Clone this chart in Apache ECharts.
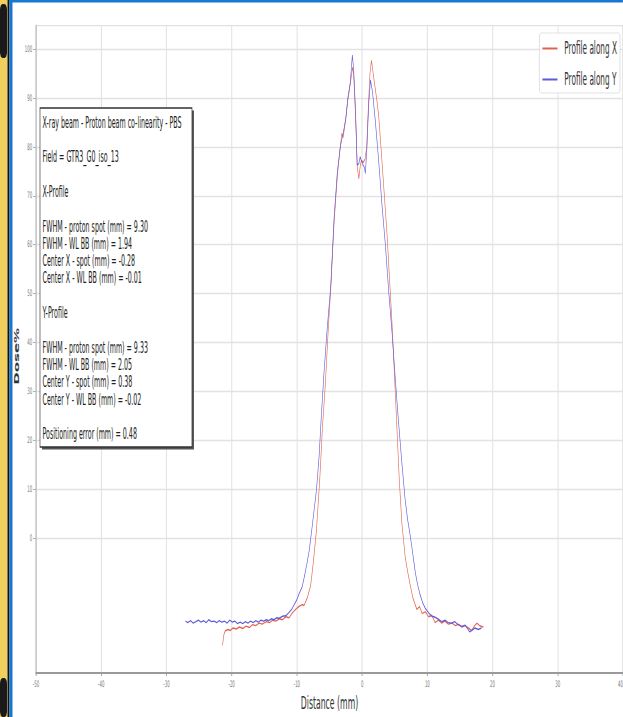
<!DOCTYPE html>
<html>
<head>
<meta charset="utf-8">
<title>Profile along X / Y</title>
<script src="https://cdn.jsdelivr.net/npm/echarts@6/dist/echarts.min.js"></script>
<style>
  html, body { margin: 0; padding: 0; background: #fff; overflow: hidden; }
  #wrap { width: 623px; height: 717px; overflow: hidden; position: relative; }
  #chart { height: 717px; transform-origin: 0 0; }
</style>
</head>
<body>
<div id="wrap"><div id="chart"></div></div>
<script>
// the source picture is squeezed sideways, so draw wide and scale x down
var S = 0.43;

// Profile along X (red)
var distX = [-21.4,-21.2,-21.0,-20.6,-20.2,-19.8,-19.3,-18.8,-18.3,-17.8,-17.3,-16.8,-16.3,-15.8,-15.3,-14.7,-14.2,-13.7,-13.2,-12.7,-12.2,-11.7,-11.2,-10.7,-10.2,-9.7,-9.2,-8.9,-8.4,-7.9,-7.5,-7.0,-6.5,-6.1,-5.6,-5.2,-4.8,-4.3,-3.8,-3.4,-3.1,-2.9,-2.5,-2.2,-1.8,-1.45,-1.3,-1.0,-0.75,-0.5,-0.3,-0.1,0.15,0.45,0.7,0.95,1.2,1.43,1.8,2.3,2.55,2.8,3.3,3.8,4.2,4.6,5.0,5.35,5.7,6.1,6.6,7.0,7.4,7.8,8.4,8.8,9.2,9.7,10.2,10.7,11.2,11.7,12.2,12.7,13.2,13.8,14.3,14.8,15.3,15.8,16.3,16.8,17.2,17.6,18.1,18.6];
var doseX = [-21.9,-19.8,-19.0,-18.7,-18.9,-18.4,-18.6,-18.2,-18.5,-18.0,-18.3,-17.7,-17.9,-17.4,-17.6,-17.1,-17.3,-16.8,-17.0,-16.5,-16.7,-16.1,-16.3,-15.3,-14.6,-14.0,-13.6,-13.8,-12.2,-9.8,-5.2,1.6,11.9,22.1,32.3,42.5,51.2,64.5,74.0,79.5,82.8,82.0,85.8,89.5,93.0,96.3,95.0,86.0,76.0,73.5,76.0,77.3,76.8,77.5,80.0,88.0,95.0,97.7,94.0,89.2,86.2,81.7,72.2,62.6,53.1,43.5,32.3,22.1,11.9,3.0,-3.8,-7.0,-9.8,-12.3,-14.6,-14.0,-15.4,-15.1,-16.1,-15.8,-17.3,-16.8,-17.4,-17.0,-17.6,-17.4,-17.9,-17.6,-18.2,-17.9,-18.4,-18.9,-18.0,-17.4,-18.0,-18.2];

// Profile along Y (blue)
var distY = [-27.1,-26.7,-26.3,-25.9,-25.5,-25.1,-24.7,-24.3,-23.9,-23.5,-23.1,-22.7,-22.3,-21.9,-21.5,-21.1,-20.7,-20.3,-19.9,-19.5,-19.1,-18.7,-18.3,-17.9,-17.5,-17.1,-16.7,-16.3,-15.9,-15.5,-15.1,-14.7,-14.3,-13.9,-13.5,-13.1,-12.7,-12.2,-11.7,-11.2,-10.8,-10.4,-10.0,-9.7,-9.2,-8.9,-8.5,-8.1,-7.6,-7.0,-6.6,-6.26,-5.85,-5.4,-4.8,-4.3,-3.8,-3.3,-2.9,-2.5,-2.2,-1.8,-1.5,-1.3,-1.0,-0.76,-0.5,-0.3,-0.15,0.15,0.35,0.5,0.76,1.0,1.28,1.59,2.04,2.55,3.05,3.57,4.08,4.58,5.1,5.6,6.1,6.6,7.0,7.4,7.8,8.15,8.5,8.9,9.3,9.7,10.2,10.7,11.2,11.7,12.2,12.7,13.2,13.7,14.2,14.7,15.3,15.8,16.2,16.5,16.9,17.3,17.8,18.3];
var doseY = [-17.0,-17.3,-16.9,-17.4,-17.1,-16.8,-17.2,-16.9,-17.3,-16.7,-17.1,-17.0,-17.3,-16.9,-17.2,-17.0,-17.4,-16.8,-17.2,-17.0,-17.5,-17.2,-17.5,-17.1,-17.4,-17.0,-17.3,-16.9,-17.2,-16.8,-17.0,-16.7,-16.9,-16.5,-16.7,-16.3,-16.4,-16.0,-15.9,-15.2,-14.6,-13.6,-12.6,-11.5,-10.0,-8.2,-5.5,-2.5,3.0,9.8,16.6,24.8,33.7,42.0,51.7,65.4,74.9,80.4,82.8,85.8,89.9,93.3,98.8,96.0,87.2,76.3,76.6,78.0,77.3,76.3,75.8,74.6,80.4,88.5,93.7,91.3,85.1,77.0,68.1,59.9,50.4,42.2,32.3,23.5,15.3,7.8,3.6,0.3,-3.5,-7.0,-9.5,-11.6,-13.3,-14.4,-15.3,-16.0,-16.2,-16.6,-17.1,-16.8,-17.3,-17.4,-17.1,-17.7,-18.1,-17.8,-18.6,-19.2,-18.8,-18.4,-18.7,-18.4];

var yTicks = [0, 10, 20, 30, 40, 50, 60, 70, 80, 90, 100];

var infoLines = [
  'X-ray beam - Proton beam co-linearity - PBS', '',
  'Field = GTR3_G0_iso_13', '',
  'X-Profile', '',
  'FWHM - proton spot (mm) = 9.30',
  'FWHM - WL BB (mm) = 1.94',
  'Center X - spot (mm) = -0.28',
  'Center X - WL BB (mm) = -0.01', '',
  'Y-Profile', '',
  'FWHM - proton spot (mm) = 9.33',
  'FWHM - WL BB (mm) = 2.05',
  'Center Y - spot (mm) = 0.38',
  'Center Y - WL BB (mm) = -0.02', '',
  'Positioning error (mm) = 0.48'
];

var red = '#e3624f';
var blue = '#5d5bdc';
var grid = '#e2e2e2';

function pairs(xs, ys) {
  return xs.map(function(x, i) { return [x, ys[i]]; });
}

var W = Math.round(623 / S);
var dom = document.getElementById('chart');
dom.style.width = W + 'px';
dom.style.transform = 'scaleX(' + (623 / W) + ')';

var chart = echarts.init(dom, null, { renderer: 'svg' });

chart.setOption({
  animation: false,
  backgroundColor: '#fff',
  textStyle: { fontFamily: "'DejaVu Sans', sans-serif" },
  grid: {
    left: 36 / S, right: 0, top: 25.7, bottom: 44,
    show: true, borderColor: '#c8c8c8', borderWidth: 1,
    outerBoundsMode: 'none'
  },
  legend: {
    orient: 'vertical',
    right: 7, top: 33,
    padding: [7, 7, 5, 7],
    itemGap: 14,
    itemWidth: 35, itemHeight: 2,
    icon: 'rect',
    backgroundColor: '#fff',
    borderColor: '#d6d6d6', borderWidth: 1, borderRadius: 4,
    textStyle: { fontSize: 17, color: '#333', lineHeight: 17, padding: [0, 0, 0, 11] },
    data: ['Profile along X', 'Profile along Y']
  },
  xAxis: {
    type: 'value', min: -50, max: 40, interval: 10,
    name: 'Distance (mm)', nameLocation: 'middle', nameGap: 18,
    nameTextStyle: { fontSize: 18, color: '#333' },
    axisLine: { onZero: false, lineStyle: { color: '#9a9a9a', width: 2 } },
    axisTick: { show: true, length: 3, lineStyle: { color: '#999', width: 2 } },
    axisLabel: { fontSize: 9, color: '#777', margin: 7, alignMaxLabel: 'right' },
    splitLine: { show: true, lineStyle: { color: grid, width: 2.4 } }
  },
  yAxis: {
    type: 'value', min: -27.6, max: 104.8,
    name: 'Dose%', nameLocation: 'middle', nameGap: 27,
    nameTextStyle: { fontSize: 15, fontWeight: 'bold', color: '#333', padding: [0, 14, 0, 0] },
    axisLine: { show: true, onZero: false, lineStyle: { color: '#bbb', width: 2.3 } },
    axisTick: { show: true, length: 7, customValues: yTicks, lineStyle: { color: '#999', width: 1 } },
    axisLabel: { customValues: yTicks, fontSize: 9, color: '#777', margin: 9 },
    splitLine: { show: true, lineStyle: { color: grid, width: 1.3 } }
  },
  series: [
    {
      name: 'Profile along X', type: 'line',
      data: pairs(distX, doseX),
      symbol: 'none', showSymbol: false,
      lineStyle: { color: red, width: 1.4 },
      itemStyle: { color: red }
    },
    {
      name: 'Profile along Y', type: 'line',
      data: pairs(distY, doseY),
      symbol: 'none', showSymbol: false,
      lineStyle: { color: blue, width: 1.4 },
      itemStyle: { color: blue }
    }
  ],
  graphic: [
    // frame strips on the left and top edge
    { type: 'rect', z: 50, shape: { x: 0, y: 0, width: 7.5 / S, height: 717 }, style: { fill: '#f0cf5e' } },
    { type: 'rect', z: 51, shape: { x: 0, y: 4, width: 7 / S, height: 54, r: 6 }, style: { fill: '#1a1a1a' } },
    { type: 'rect', z: 51, shape: { x: 0, y: 678, width: 7 / S, height: 39, r: 6 }, style: { fill: '#1a1a1a' } },
    { type: 'rect', z: 52, shape: { x: 7.5 / S, y: 0, width: 2 / S, height: 717 }, style: { fill: '#111' } },
    { type: 'rect', z: 52, shape: { x: 9.5 / S, y: 0, width: 3 / S, height: 717 }, style: { fill: '#1877d2' } },
    { type: 'rect', z: 52, shape: { x: 9.5 / S, y: 0, width: (623 - 9.5) / S, height: 2.5 }, style: { fill: '#1877d2' } },
    // info box
    { type: 'rect', z: 60, shape: { x: 42 / S, y: 110.5, width: 152 / S, height: 339 }, style: { fill: '#555' } },
    { type: 'rect', z: 61, shape: { x: 40 / S, y: 108, width: 152 / S, height: 339 },
      style: { fill: '#fff', stroke: '#333', lineWidth: 1.5 } },
    { type: 'text', z: 62, x: 42.5 / S, y: 113.9, scaleX: 0.95,
      style: {
        text: infoLines.join('\n'),
        font: "15.5px 'DejaVu Sans', sans-serif",
        lineHeight: 17.3,
        fill: '#222',
        verticalAlign: 'top'
      }
    }
  ]
});
</script>
</body>
</html>
